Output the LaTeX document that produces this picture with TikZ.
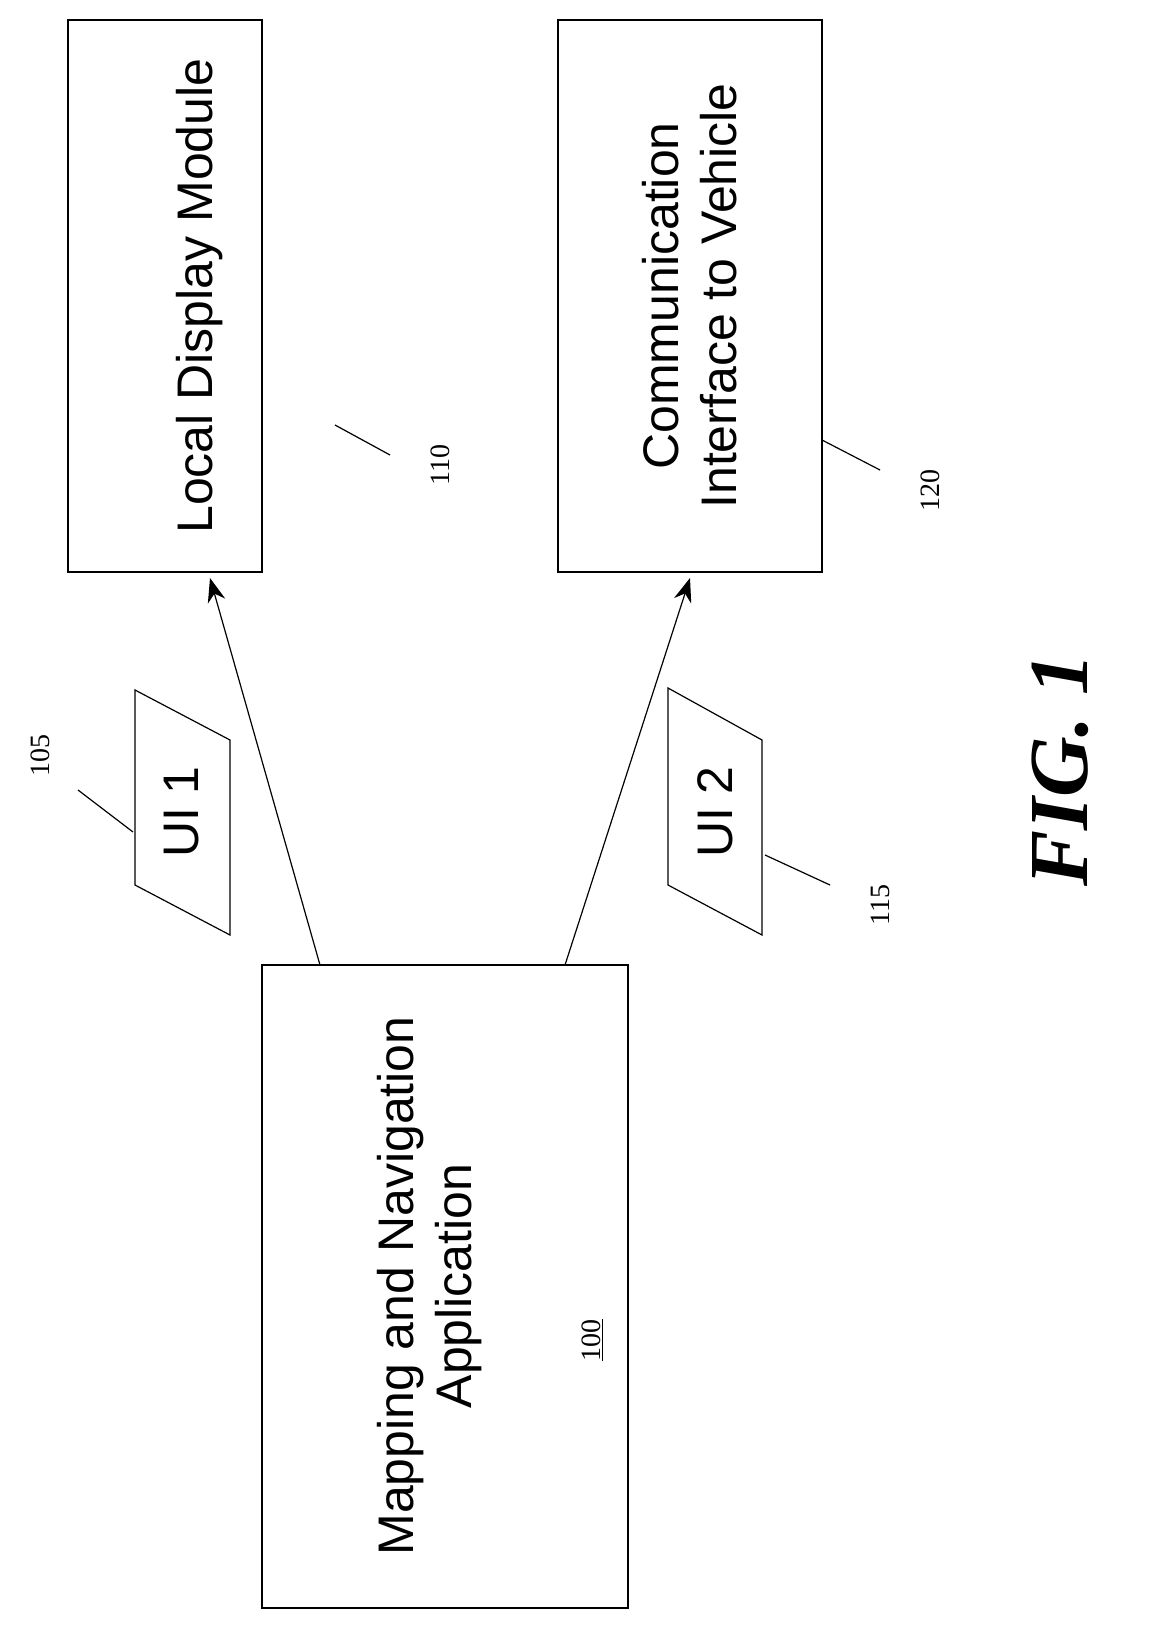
\documentclass[tikz,border=0pt]{standalone}
\usepackage{fontspec}
\setmainfont{Liberation Serif}
\setsansfont{Liberation Sans}
\usetikzlibrary{calc}
\usetikzlibrary{positioning}
\usetikzlibrary{arrows.meta}
\begin{document}
\begin{tikzpicture}[x=1pt,y=-1pt,
  txt/.style={rotate=90, font=\sffamily\fontsize{50}{58}\selectfont, align=center},
  num/.style={rotate=90, font=\rmfamily\fontsize{28}{32}\selectfont},
  lead/.style={very thick},
  link/.style={very thick, -{Stealth[length=24pt,width=18pt]}}]
  \useasboundingbox (0,0) rectangle (1170,1629);
  % boxes
  \draw[very thick] (68,20) rectangle (262,572);
  \draw[very thick] (558,20) rectangle (822,572);
  \draw[very thick] (262,965) rectangle (628,1608);
  \node[txt] (disp) at (200,296) {Local Display Module};
  \node[txt] (comm) at (690,296) {Communication\\Interface to Vehicle};
  \node[txt] (map) at (430,1286) {Mapping and Navigation\\Application};
  \node[num] (n100) at (592,1340) {\underline{100}};
  % interfaces
  \draw[very thick] (135,690) -- (230,740) -- (230,935) -- (135,885) -- cycle;
  \draw[very thick] (668,688) -- (762,740) -- (762,935) -- (668,885) -- cycle;
  \node[txt] (ui1) at (182,812) {UI 1};
  \node[txt] (ui2) at (715,812) {UI 2};
  % connectors
  \coordinate (a1) at (320,965);
  \coordinate (b1) at (210,578);
  \coordinate (a2) at (565,965);
  \coordinate (b2) at (690,578);
  \draw[link] (a1) -- (b1);
  \draw[link] (a2) -- (b2);
  % reference numerals
  \node[num] (n105) at (40,755) {105};
  \node[num] (n110) at (440,465) {110};
  \node[num] (n115) at (880,905) {115};
  \node[num] (n120) at (930,490) {120};
  \coordinate (l1) at (78,790);  \coordinate (m1) at (133,832);
  \coordinate (l2) at (335,425); \coordinate (m2) at (390,455);
  \coordinate (l3) at (765,855); \coordinate (m3) at (830,885);
  \coordinate (l4) at (822,440); \coordinate (m4) at (880,470);
  \draw[lead] (l1) -- (m1);
  \draw[lead] (l2) -- (m2);
  \draw[lead] (l3) -- (m3);
  \draw[lead] (l4) -- (m4);
  \node[rotate=90, font=\rmfamily\bfseries\itshape\fontsize{84}{92}\selectfont] (fig) at (1060,770) {FIG. 1};
\end{tikzpicture}
\end{document}
